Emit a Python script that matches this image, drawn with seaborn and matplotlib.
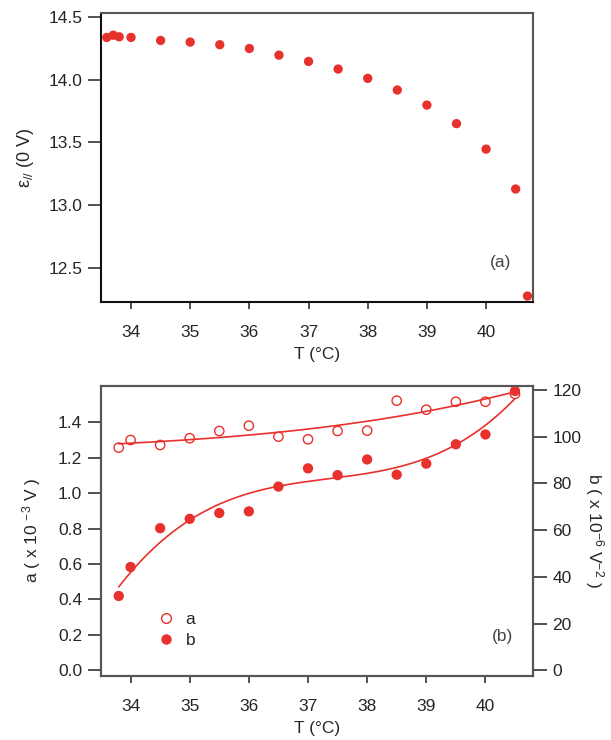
import numpy as np
import pandas as pd
import matplotlib
matplotlib.use("Agg")
import matplotlib.pyplot as plt
import seaborn as sns
from matplotlib.lines import Line2D

# --- panel (a): permittivity at zero field vs temperature
temp_a = [33.59, 33.70, 33.80, 34.0, 34.5, 35.0, 35.5, 36.0, 36.5, 37.0,
          37.5, 38.0, 38.5, 39.0, 39.5, 40.0, 40.5, 40.7]
eps_par = [14.336, 14.354, 14.341, 14.336, 14.312, 14.299, 14.278, 14.248,
           14.195, 14.145, 14.084, 14.010, 13.917, 13.797, 13.649, 13.446,
           13.128, 12.275]

# --- panel (b): fit coefficients a and b vs temperature
temp_b = [33.8, 34.0, 34.5, 35.0, 35.5, 36.0, 36.5, 37.0, 37.5, 38.0,
          38.5, 39.0, 39.5, 40.0, 40.5]
coef_a = [1.257, 1.300, 1.272, 1.310, 1.351, 1.381, 1.319, 1.304, 1.351,
          1.353, 1.522, 1.471, 1.516, 1.516, 1.560]
coef_b = [31.8, 44.2, 60.8, 64.8, 67.3, 68.0, 78.6, 86.4, 83.5, 90.2,
          83.7, 88.4, 96.7, 100.9, 119.5]

x_ticks = [34, 35, 36, 37, 38, 39, 40]
eps_ticks = [12.5, 13.0, 13.5, 14.0, 14.5]
a_ticks = [0.0, 0.2, 0.4, 0.6, 0.8, 1.0, 1.2, 1.4]
b_ticks = [0, 20, 40, 60, 80, 100, 120]

RED = "#e8302c"
SPINE = "#333333"
FS = 12.5

sns.set_style("ticks")
plt.rcParams["font.family"] = ["Liberation Sans", "DejaVu Sans"]
plt.rcParams["mathtext.default"] = "regular"

fig = plt.figure(figsize=(6.11, 7.40), dpi=100)

# ---------------- panel (a)
ax1 = fig.add_axes([0.166, 0.5923, 0.707, 0.390])
df_a = pd.DataFrame({"T": temp_a, "eps": eps_par})
sns.scatterplot(data=df_a, x="T", y="eps", ax=ax1, color=RED, s=45,
                edgecolor="none", legend=False)
ax1.set_xlim(33.5, 40.8)
ax1.set_ylim(12.23, 14.53)
ax1.set_xticks(x_ticks)
ax1.set_yticks(eps_ticks)
ax1.set_yticklabels([f"{v:.1f}" for v in eps_ticks])
ax1.set_xlabel("T (°C)", fontsize=FS, labelpad=5)
ax1.set_ylabel(r"$ε_{//}$ (0 V)", fontsize=13, labelpad=9)
ax1.tick_params(axis="y", length=9.5, width=1.2, labelsize=FS, color=SPINE,
                pad=4)
ax1.tick_params(axis="x", length=5, width=1.2, labelsize=FS, color=SPINE,
                pad=12)
for side in ["left", "bottom"]:
    ax1.spines[side].set_color("#111111")
    ax1.spines[side].set_linewidth(1.5)
for side in ["top", "right"]:
    ax1.spines[side].set_visible(True)
    ax1.spines[side].set_color("#555555")
    ax1.spines[side].set_linewidth(1.5)
ax1.text(40.24, 12.54, "(a)", fontsize=FS, color="#444444",
         ha="center", va="center")

# ---------------- panel (b)
ax2 = fig.add_axes([0.1653, 0.0869, 0.7066, 0.392])
ax3 = ax2.twinx()

df_b = pd.DataFrame({"T": temp_b, "a": coef_a, "b": coef_b})

# smooth cubic fits through each coefficient series
t_fit = np.linspace(min(temp_b), max(temp_b), 200)
fit_a = np.polyval(np.polyfit(temp_b, coef_a, 3), t_fit)
fit_b = np.polyval(np.polyfit(temp_b, coef_b, 3), t_fit)

sns.lineplot(x=t_fit, y=fit_a, ax=ax2, color=RED, linewidth=1.2)
sns.scatterplot(data=df_b, x="T", y="a", ax=ax2, s=45, marker="o",
                facecolor="none", edgecolor=RED, linewidth=1.0, legend=False)
sns.lineplot(x=t_fit, y=fit_b, ax=ax3, color=RED, linewidth=1.2)
sns.scatterplot(data=df_b, x="T", y="b", ax=ax3, s=55, color=RED,
                edgecolor="none", legend=False)

ax2.set_xlim(33.5, 40.8)
ax2.set_ylim(-0.03, 1.607)
ax3.set_ylim(-2.3, 121.8)
ax2.set_xticks(x_ticks)
ax2.set_yticks(a_ticks)
ax2.set_yticklabels([f"{v:.1f}" for v in a_ticks])
ax3.set_yticks(b_ticks)
ax2.set_xlabel("T (°C)", fontsize=FS, labelpad=5)
ax2.set_ylabel(r"a ( x 10 $^{-3}$ V )", fontsize=FS, labelpad=11)
ax3.set_ylabel(r"b ( x 10$^{-6}$ V$^{-2}$ )", fontsize=FS, rotation=270,
               labelpad=18)
ax2.tick_params(axis="y", length=9.5, width=1.2, labelsize=FS, color=SPINE,
                pad=4)
ax2.tick_params(axis="x", length=5, width=1.2, labelsize=FS, color=SPINE,
                pad=12)
ax3.tick_params(axis="y", length=10, width=1.2, labelsize=FS, color=SPINE,
                pad=4)
for ax in (ax2, ax3):
    for side in ["left", "bottom", "top", "right"]:
        ax.spines[side].set_visible(True)
        ax.spines[side].set_color("#555555")
        ax.spines[side].set_linewidth(1.5)

ax2.text(40.29, 0.19, "(b)", fontsize=FS, color="#444444",
         ha="center", va="center")

handles = [
    Line2D([], [], linestyle="none", marker="o", markersize=7,
           markerfacecolor="none", markeredgecolor=RED, markeredgewidth=1.0),
    Line2D([], [], linestyle="none", marker="o", markersize=7.5,
           markerfacecolor=RED, markeredgecolor="none"),
]
ax2.legend(handles, ["a", "b"], loc="lower left",
           bbox_to_anchor=(0.085, 0.04), frameon=False, fontsize=FS,
           handletextpad=0.35, labelspacing=0.35, handlelength=1.5)

fig.savefig("out.png", dpi=100)
